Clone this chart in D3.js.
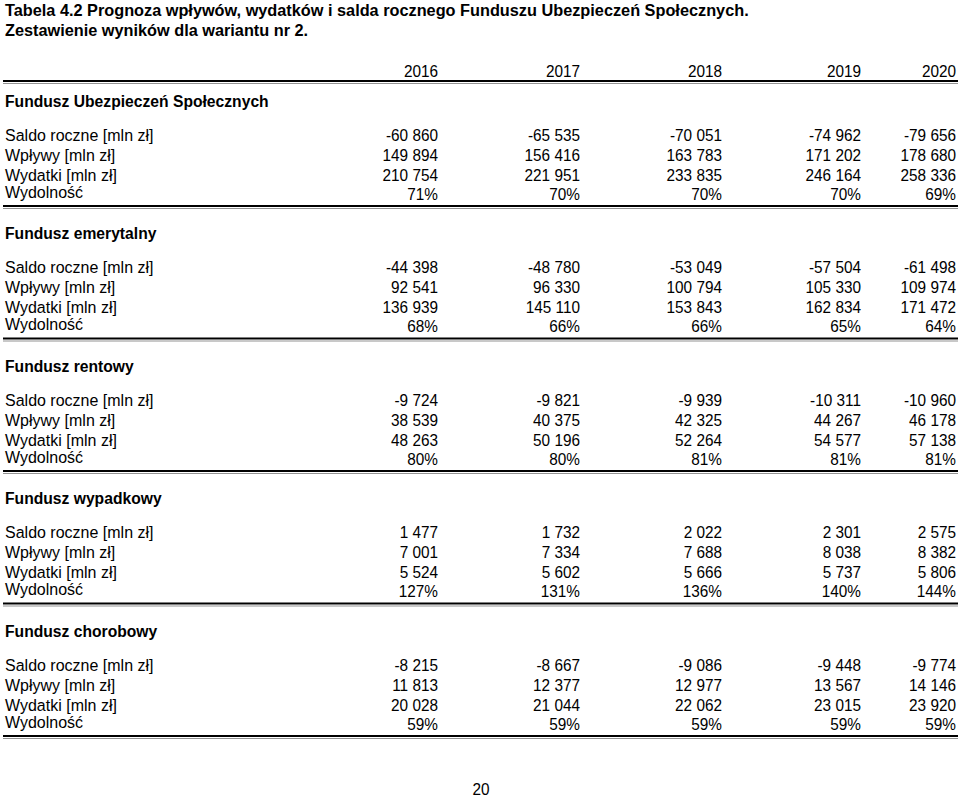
<!DOCTYPE html>
<html>
<head>
<meta charset="utf-8">
<script src="https://cdn.jsdelivr.net/npm/d3@7"></script>
<style>
  html, body { margin: 0; padding: 0; background: #fff; }
  svg { display: block; }
  text { font-family: "Liberation Sans", Arial, Helvetica, sans-serif; fill: #000; }
</style>
</head>
<body>
<script>
// ---------- data ----------
const titleLines = [
  "Tabela 4.2  Prognoza wpływów, wydatków i salda rocznego Funduszu Ubezpieczeń Społecznych.",
  "Zestawienie wyników dla wariantu nr 2."
];
const years = ["2016", "2017", "2018", "2019", "2020"];
const funds = [
  "Fundusz Ubezpieczeń Społecznych",
  "Fundusz emerytalny",
  "Fundusz rentowy",
  "Fundusz wypadkowy",
  "Fundusz chorobowy"
];
const rowLabels = ["Saldo roczne [mln zł]", "Wpływy [mln zł]", "Wydatki [mln zł]", "Wydolność"];

const fusSaldo    = [-60860, -65535, -70051, -74962, -79656];
const fusWplywy   = [149894, 156416, 163783, 171202, 178680];
const fusWydatki  = [210754, 221951, 233835, 246164, 258336];
const fusWydol    = [71, 70, 70, 70, 69];

const emeSaldo    = [-44398, -48780, -53049, -57504, -61498];
const emeWplywy   = [92541, 96330, 100794, 105330, 109974];
const emeWydatki  = [136939, 145110, 153843, 162834, 171472];
const emeWydol    = [68, 66, 66, 65, 64];

const renSaldo    = [-9724, -9821, -9939, -10311, -10960];
const renWplywy   = [38539, 40375, 42325, 44267, 46178];
const renWydatki  = [48263, 50196, 52264, 54577, 57138];
const renWydol    = [80, 80, 81, 81, 81];

const wypSaldo    = [1477, 1732, 2022, 2301, 2575];
const wypWplywy   = [7001, 7334, 7688, 8038, 8382];
const wypWydatki  = [5524, 5602, 5666, 5737, 5806];
const wypWydol    = [127, 131, 136, 140, 144];

const chSaldo     = [-8215, -8667, -9086, -9448, -9774];
const chWplywy    = [11813, 12377, 12977, 13567, 14146];
const chWydatki   = [20028, 21044, 22062, 23015, 23920];
const chWydol     = [59, 59, 59, 59, 59];

const pageNumber = "20";

// ---------- build table ----------
const sections = [
  [fusSaldo, fusWplywy, fusWydatki, fusWydol],
  [emeSaldo, emeWplywy, emeWydatki, emeWydol],
  [renSaldo, renWplywy, renWydatki, renWydol],
  [wypSaldo, wypWplywy, wypWydatki, wypWydol],
  [chSaldo, chWplywy, chWydatki, chWydol]
].map((rows, i) => ({ name: funds[i], rows }));

const W = 960, H = 800;
const svg = d3.select("body").append("svg").attr("width", W).attr("height", H);

const loc = d3.formatLocale({ decimal: ",", thousands: " ", grouping: [3], currency: ["", " zł"], minus: "-" });
const fmtNum = loc.format(",d");
const fmtPct = v => d3.format("d")(v) + "%";

// column (right-edge) scale
const x = d3.scaleOrdinal().domain(years).range([438, 580, 722, 861, 956]);
// section scale
const sectionY = d3.scaleLinear().domain([0, 1]).range([101, 233.5]);
// row offsets within section
const rowY = d3.scaleOrdinal().domain([0, 1, 2, 3]).range([34, 54, 74, 93]);
const ruleOffset = 105;
const leftX = 5;

// text helper: font size + horizontal compression
function txt(parent, str, px, py, opts) {
  const o = Object.assign({ size: 16.5, sx: 0.93, anchor: "start", weight: "normal" }, opts || {});
  return parent.append("text")
    .attr("transform", `translate(${px},${py}) scale(${o.sx},1)`)
    .attr("dy", "0.36em")
    .attr("text-anchor", o.anchor)
    .attr("font-size", o.size)
    .attr("font-weight", o.weight)
    .text(str);
}

// title
titleLines.forEach((t, i) => txt(svg, t, leftX, 10 + i * 20, { size: 16.3, sx: 1.0, weight: "bold" }));

// year headers
years.forEach(yr => txt(svg, yr, x(yr), 71, { anchor: "end" }));

function rule(y) {
  svg.append("line").attr("x1", 3).attr("x2", 958).attr("y1", y).attr("y2", y)
    .attr("stroke", "#000").attr("stroke-width", 2.2);
  svg.append("line").attr("x1", 3).attr("x2", 958).attr("y1", y + 2.5).attr("y2", y + 2.5)
    .attr("stroke", "#777").attr("stroke-width", 0.8);
}
rule(81);

sections.forEach((sec, si) => {
  const y0 = sectionY(si);
  const g = svg.append("g");
  txt(g, sec.name, leftX, y0, { weight: "bold", sx: 0.95 });
  sec.rows.forEach((vals, ri) => {
    const ry = y0 + rowY(ri);
    txt(g, rowLabels[ri], leftX, ry - (ri === 3 ? 2 : 0), { sx: 0.97 });
    vals.forEach((v, i) => {
      txt(g, ri === 3 ? fmtPct(v) : fmtNum(v), x(years[i]), ry, { anchor: "end" });
    });
  });
  rule(y0 + ruleOffset);
});

txt(svg, pageNumber, 481, 789, { anchor: "middle" });
</script>
</body>
</html>
